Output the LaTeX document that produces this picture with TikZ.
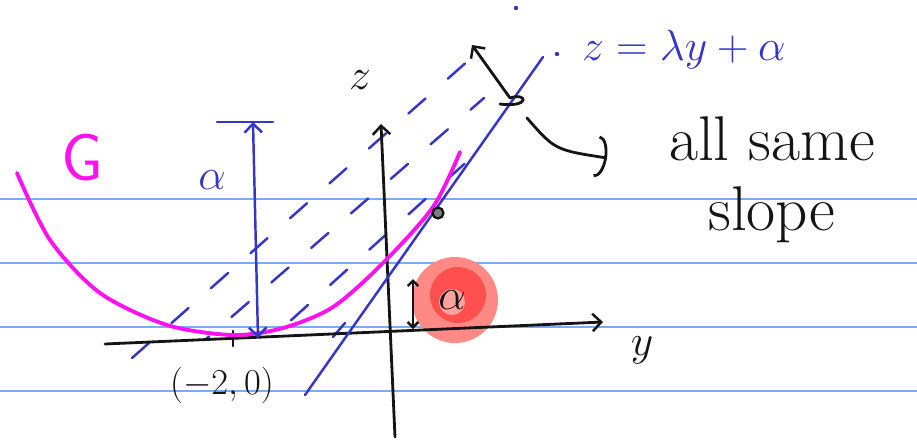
\documentclass[tikz,border=0pt]{standalone}
\usepackage{amsmath}
\usepackage{tikz}
\usetikzlibrary{arrows.meta,calc,positioning}
\definecolor{Ink}{HTML}{141414}
\definecolor{Pen}{HTML}{3535C8}
\definecolor{Mag}{HTML}{FF10F0}
\definecolor{Rule}{HTML}{78AEEE}
\definecolor{Blob}{HTML}{FF8A85}
\definecolor{BlobIn}{HTML}{FF4F4F}

\begin{document}
\begin{tikzpicture}[x=0.02cm,y=-0.02cm,
        ink/.style={draw=Ink,line width=1.6pt,line cap=round},
        pen/.style={draw=Pen,line width=1.4pt,line cap=round},
        hatch/.style={pen,dash pattern=on 13pt off 17pt},
        barb/.style={-{Straight Barb[length=5pt,width=10pt,line width=1.4pt]}},
        lbl/.style={text=Ink,inner sep=0pt}]
        \useasboundingbox (0,0) rectangle (917,443);
        % notebook rules
        \foreach \r in {199,263,327,391}
          \draw[Rule,line width=0.7pt] (0,\r) -- (917,\r);
        % alpha blob
        \fill[Blob] (455,300) circle (43);
        \fill[BlobIn] (458,295) circle (28);
        \fill[Blob!80] (452,302) circle (13);
        % hatching: parallel lines
        \draw[hatch] (132,358) -- (478,52);
        \draw[hatch,dash phase=10pt] (205,340) -- (484,98);
        \draw[hatch,dash phase=20pt] (278,332) -- (482,148);
        \draw[pen] (333,337) -- (345,323);
        % axes
        \coordinate (yO) at (105,344);
        \coordinate (yE) at (603,322);
        \coordinate (zO) at (395,437);
        \coordinate (zE) at (381,124);
        \draw[ink,barb] (yO) -- (yE);
        \draw[ink,barb] (zO) -- (zE);
        \node[lbl,font=\Huge] (ylab) at (642,350) {$y$};
        \node[lbl,font=\Huge] (zlab) at (360,80) {$z$};
        \draw[ink] (233,331) -- (233,346);
        \node[lbl,font=\huge] (vtx) at (222,385) {$(-2,0)$};
        % the graph G
        \draw[Mag,line width=2.2pt,line cap=round] plot[smooth] coordinates
          {(17,173) (50,240) (100,293) (167,325) (233,335) (283,328)
           (333,307) (383,263) (433,207) (460,152)};
        \node[text=Mag,font=\fontsize{38}{40}\selectfont\sffamily] (G) at (82,158) {G};
        % alpha between parabola and line
        \coordinate (aT) at (253,122);
        \coordinate (aB) at (258,338);
        \draw[pen] (217,122) -- (273,122);
        \draw[pen,{Straight Barb[length=5pt,width=10pt]}-{Straight Barb[length=5pt,width=10pt]}] (aB) -- (aT);
        \node[text=Pen,font=\Huge] (alab) at (212,180) {$\alpha$};
        % tangent line
        \coordinate (tA) at (305,395);
        \coordinate (tB) at (543,57);
        \draw[pen] (tA) -- (tB);
        \fill[Pen] (557,54) circle (2.2) (516,8) circle (2.2);
        \node[text=Pen,font=\Huge,anchor=west] (eq) at (576,50) {$z = \lambda y + \alpha$};
        \node[circle,draw=Ink,fill=Ink!55,line width=1.3pt,inner sep=2.2pt] (pt) at (438,213) {};
        % intercept alpha
        \draw[ink,line width=1.4pt,{Straight Barb[length=3pt,width=6pt]}-{Straight Barb[length=3pt,width=6pt]}] (413,279) -- (413,329);
        \node[lbl,font=\Huge] (blab) at (452,300) {$\alpha$};
        % same slope remark
        \node[lbl,font=\fontsize{36}{40}\selectfont,align=center] (note) at (772,180)
          {all same\\slope};
        \coordinate (sw) at (510,98);
        \coordinate (hook) at (607,158);
        \draw[ink,barb] (sw) .. controls (528,92) and (530,108) .. (500,104)
          (sw) -- (472,45);
        \draw[ink,-{Arc Barb[length=6pt,width=24pt]}] (527,118) .. controls (555,150) .. (hook);
      \end{tikzpicture}
\end{document}
